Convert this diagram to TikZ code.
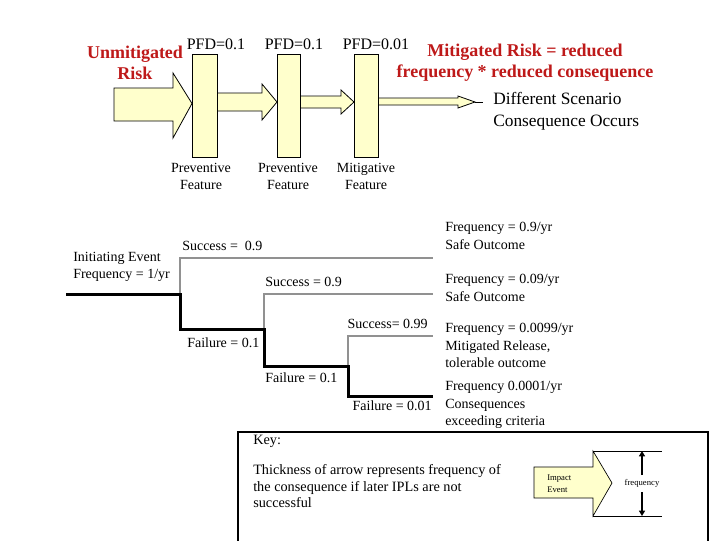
\documentclass[tikz,border=0pt]{standalone}
\usepackage{fontspec}
\setmainfont{Liberation Serif}
\usetikzlibrary{arrows.meta}
\definecolor{fillY}{RGB}{255,255,204}
\definecolor{riskred}{RGB}{190,25,25}
\definecolor{branchgray}{RGB}{145,145,145}
\begin{document}
\begin{tikzpicture}[x=0.75pt,y=-0.75pt,
  barbox/.style={draw=black, fill=fillY, line width=0.75pt},
  blockarrow/.style={draw=black, fill=fillY, line width=0.6pt, line join=miter},
  redtxt/.style={text=riskred, font=\fontsize{13.5}{15.75}\selectfont\bfseries, inner sep=0, align=center},
  pfd/.style={font=\fontsize{12}{14}\selectfont, inner sep=0},
  bigtxt/.style={font=\fontsize{13}{16.5}\selectfont, inner sep=0, align=left},
  featlbl/.style={font=\fontsize{10.5}{12.75}\selectfont, inner sep=0, align=center},
  lbl/.style={font=\fontsize{10.5}{12.75}\selectfont, inner sep=0, align=left},
  outlbl/.style={font=\fontsize{10.5}{13}\selectfont, inner sep=0, align=left, anchor=west},
  failpath/.style={line width=2.25pt, black, line join=miter},
  succpath/.style={line width=1.1pt, branchgray, line join=miter},
  keytxt/.style={font=\fontsize{10.7}{12.4}\selectfont, inner sep=0, align=left},
  tinytxt/.style={font=\fontsize{6.5}{9}\selectfont, inner sep=0, align=left},
]
\useasboundingbox (0,0) rectangle (720,540);

% ---------- top: barrier diagram ----------
\draw[blockarrow] (114,88) -- (173,88) -- (173,73) -- (192,103.5) -- (173,138) -- (173,121) -- (114,121) -- cycle;
\draw[blockarrow] (210,93) -- (262,93) -- (262,84) -- (277,102) -- (262,120) -- (262,111) -- (210,111) -- cycle;
\draw[blockarrow] (290,96) -- (341,96) -- (341,90) -- (354,102) -- (341,114) -- (341,108) -- (290,108) -- cycle;
\draw[blockarrow] (370,98) -- (458,98) -- (458,96) -- (475,102) -- (458,108) -- (458,105) -- (370,105) -- cycle;
\coordinate (arrowtip) at (475,102);
\coordinate (arrowend) at (483,102);
\draw[line width=0.75pt] (arrowtip) -- (arrowend);

\node[barbox, minimum width=18.75pt, minimum height=77.25pt, inner sep=0] (bar1) at (204.5,105.5) {};
\node[barbox, minimum width=17.25pt, minimum height=77.25pt, inner sep=0] (bar2) at (288.5,105.5) {};
\node[barbox, minimum width=18pt, minimum height=77.25pt, inner sep=0] (bar3) at (366,105.5) {};

\node[pfd] (pfd1) at (216,44) {PFD=0.1};
\node[pfd] (pfd2) at (294,44) {PFD=0.1};
\node[pfd] (pfd3) at (376,44) {PFD=0.01};

\node[redtxt] (unmit) at (135,62.5) {Unmitigated\\Risk};
\node[redtxt] (mitig) at (525,62.5) {Mitigated Risk = reduced\\frequency * reduced consequence};
\node[bigtxt, anchor=west] (diffsc) at (493,111) {Different Scenario\\Consequence Occurs};

\node[featlbl] (feat1) at (201,176.5) {Preventive\\Feature};
\node[featlbl] (feat2) at (288,176.5) {Preventive\\Feature};
\node[featlbl] (feat3) at (366,176.5) {Mitigative\\Feature};

% ---------- event tree ----------
\coordinate (ie) at (66,294);
\coordinate (n1) at (180,294);
\coordinate (f1) at (180,329);
\coordinate (n2) at (264,329);
\coordinate (f2) at (264,366);
\coordinate (n3) at (348,366);
\coordinate (f3) at (348,396);
\coordinate (e4) at (433,396);
\coordinate (e1) at (433,258);
\coordinate (e2) at (433,294);
\coordinate (e3) at (433,336);

\draw[succpath] (n1) |- (e1);
\draw[succpath] (n2) |- (e2);
\draw[succpath] (n3) |- (e3);
\draw[failpath] (ie) -- (n1) -- (f1) -- (n2) -- (f2) -- (n3) -- (f3) -- (e4);

\node[lbl, anchor=west] (init) at (73,266.5) {Initiating Event\\Frequency = 1/yr};
\node[lbl, anchor=west] (s1) at (182,246) {Success = \ 0.9};
\node[lbl, anchor=west] (fl1) at (187,343) {Failure = 0.1};
\node[lbl, anchor=west] (s2) at (265,282) {Success = 0.9};
\node[lbl, anchor=west] (fl2) at (265,378) {Failure = 0.1};
\node[lbl, anchor=east] (s3) at (428,324) {Success= 0.99};
\node[lbl, anchor=east] (fl3) at (432,406) {Failure = 0.01};

\node[outlbl] (o1) at (445,236) {Frequency = 0.9/yr\\Safe Outcome};
\node[outlbl] (o2) at (445,288) {Frequency = 0.09/yr\\Safe Outcome};
\node[outlbl] (o3) at (445,345.5) {Frequency = 0.0099/yr\\Mitigated Release,\\tolerable outcome};
\node[outlbl] (o4) at (445,405) {Frequency 0.0001/yr\\Consequences\\exceeding criteria};

% ---------- key ----------
\draw[line width=0.9pt] (238,541) -- (238,432) -- (708,432) -- (708,541);
\node[keytxt, anchor=west] (keyhd) at (253,441) {Key:};
\node[keytxt, anchor=west] (keybody) at (253,486.5) {Thickness of arrow represents frequency of\\the consequence if later IPLs are not\\successful};

\draw[blockarrow, line width=0.5pt] (534,467) -- (593,467) -- (593,451) -- (612,483) -- (593,516) -- (593,498) -- (534,498) -- cycle;
\node[tinytxt, anchor=west] (impact) at (547,484) {Impact\\Event};
\coordinate (ktop) at (593,451);
\coordinate (kbot) at (593,516);
\coordinate (ktopr) at (662,451);
\coordinate (kbotr) at (662,516);
\draw[line width=0.6pt] (ktop) -- (ktopr);
\draw[line width=0.6pt] (kbot) -- (kbotr);
\node[tinytxt] (freq) at (642,483) {frequency};
\coordinate (fqtop) at (642,451);
\coordinate (fqbot) at (642,516);
\draw[line width=1.5pt, -{Triangle[length=4pt,width=4.5pt]}] (642,475) -- (fqtop);
\draw[line width=1.5pt, -{Triangle[length=4pt,width=4.5pt]}] (642,492) -- (fqbot);
\end{tikzpicture}
\end{document}
